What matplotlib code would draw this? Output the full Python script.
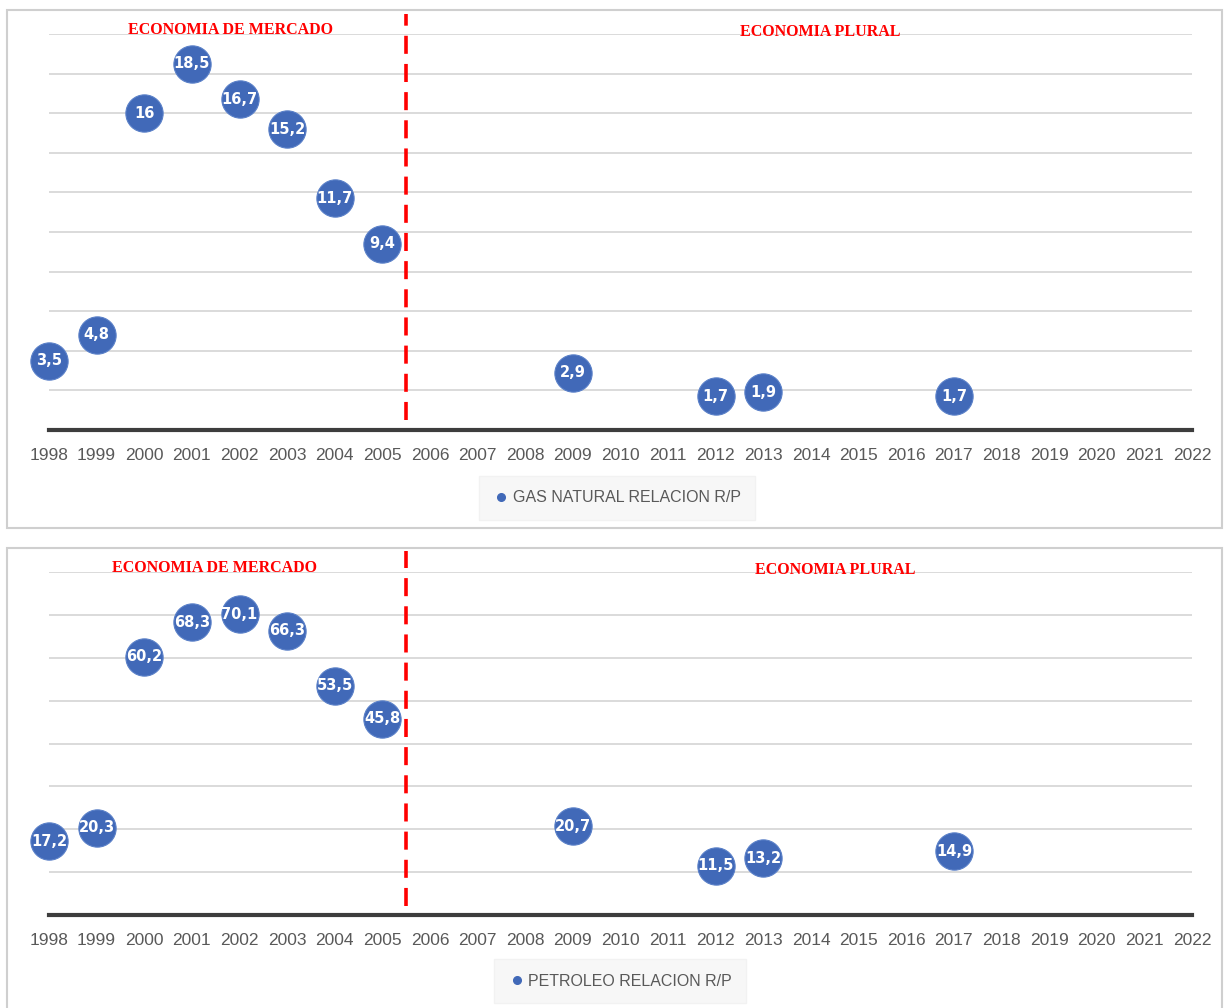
"""Recreate the two R/P ratio scatter panels (gas natural and petroleo)."""

from __future__ import annotations

import matplotlib

matplotlib.use("Agg")

import matplotlib.pyplot as plt
from matplotlib.lines import Line2D
from matplotlib.patches import Rectangle


YEARS_ALL = list(range(1998, 2023))

GAS_YEARS = [1998, 1999, 2000, 2001, 2002, 2003, 2004, 2005, 2009, 2012, 2013, 2017]
GAS_VALUES = [3.5, 4.8, 16, 18.5, 16.7, 15.2, 11.7, 9.4, 2.9, 1.7, 1.9, 1.7]

OIL_YEARS = [1998, 1999, 2000, 2001, 2002, 2003, 2004, 2005, 2009, 2012, 2013, 2017]
OIL_VALUES = [17.2, 20.3, 60.2, 68.3, 70.1, 66.3, 53.5, 45.8, 20.7, 11.5, 13.2, 14.9]

GAS_LABEL = "GAS NATURAL RELACION R/P"
OIL_LABEL = "PETROLEO RELACION R/P"
LEFT_TITLE = "ECONOMIA DE MERCADO"
RIGHT_TITLE = "ECONOMIA PLURAL"
DIVIDER_YEAR = 2005.5

DOT_COLOR = "#4169b8"
GRID_COLOR = "#d4d4d4"
TICK_COLOR = "#595959"
RED = "#ff0000"

W, H = 1224, 1008


def fmt(value: float) -> str:
    text = f"{value:g}"
    return text.replace(".", ",")


def px_box(x0, y0, x1, y1):
    """Convert a pixel box (top-left origin) into figure fractions."""
    return [x0 / W, 1 - y1 / H, (x1 - x0) / W, (y1 - y0) / H]


def draw_panel(fig, axes_box, years, values, ymax, step, legend_label, legend_xy,
               left_title_x, right_title_x, title_y, divider_top):
    ax = fig.add_axes(px_box(*axes_box))
    ax.set_xlim(YEARS_ALL[0], YEARS_ALL[-1])
    ax.set_ylim(0, ymax)

    for level in range(step, ymax + 1, step):
        ax.axhline(level, color=GRID_COLOR, lw=1.2, zorder=1)
    ax.axhline(0, color="#3d3d3d", lw=3, zorder=2, clip_on=False)

    ax.scatter(years, values, s=720, color=DOT_COLOR, edgecolors="#5a80c8",
               linewidths=0.8, zorder=4, clip_on=False)
    for year, value in zip(years, values):
        ax.text(year, value, fmt(value), color="white", fontsize=10.5,
                fontweight="bold", ha="center", va="center", zorder=5)

    ax.plot([DIVIDER_YEAR, DIVIDER_YEAR], [ymax * 0.025, divider_top], color=RED,
            lw=2.6, linestyle=(0, (5, 2.8)), zorder=6, clip_on=False)

    ax.set_xticks(YEARS_ALL)
    ax.set_xticklabels([str(y) for y in YEARS_ALL], fontsize=12.5,
                       color=TICK_COLOR, family="Liberation Sans")
    ax.tick_params(axis="x", length=0, pad=13)
    ax.set_yticks([])
    for spine in ax.spines.values():
        spine.set_visible(False)
    ax.patch.set_alpha(0)

    fig.text(left_title_x / W, 1 - title_y / H, LEFT_TITLE, color=RED, fontsize=11.5,
             fontweight="bold", family="Liberation Serif", ha="center", va="center")
    fig.text(right_title_x / W, 1 - (title_y + 2) / H, RIGHT_TITLE, color=RED,
             fontsize=11.5, fontweight="bold", family="Liberation Serif",
             ha="center", va="center")

    handle = Line2D([], [], marker="o", linestyle="none", markersize=5.5,
                    color=DOT_COLOR)
    fig.legend([handle], [legend_label], loc="center",
               bbox_to_anchor=(legend_xy[0] / W, 1 - legend_xy[1] / H),
               bbox_transform=fig.transFigure, frameon=True, facecolor="#f7f7f7",
               edgecolor="#f2f2f2", fancybox=False, handletextpad=0.2,
               borderpad=0.9, handlelength=1.0, borderaxespad=0,
               prop={"family": "Liberation Sans", "size": 11.5},
               labelcolor=TICK_COLOR, framealpha=1)
    return ax


def main() -> None:
    fig = plt.figure(figsize=(W / 100, H / 100), dpi=100)
    fig.patch.set_facecolor("white")

    for box in (px_box(7, 10, 1222, 528), px_box(7, 548, 1222, 1015)):
        fig.patches.append(Rectangle((box[0], box[1]), box[2], box[3],
                                     transform=fig.transFigure, fill=False,
                                     edgecolor="#cfcfcf", lw=1.5))

    draw_panel(fig, (49, 34, 1192, 430), GAS_YEARS, GAS_VALUES, 20, 2, GAS_LABEL,
               (617, 498), 230, 820, 30, 21.0)
    draw_panel(fig, (49, 572, 1192, 915), OIL_YEARS, OIL_VALUES, 80, 10, OIL_LABEL,
               (620, 981), 215, 835, 568, 85.0)

    fig.savefig("out.png", dpi=100)
    plt.close(fig)


if __name__ == "__main__":
    main()
